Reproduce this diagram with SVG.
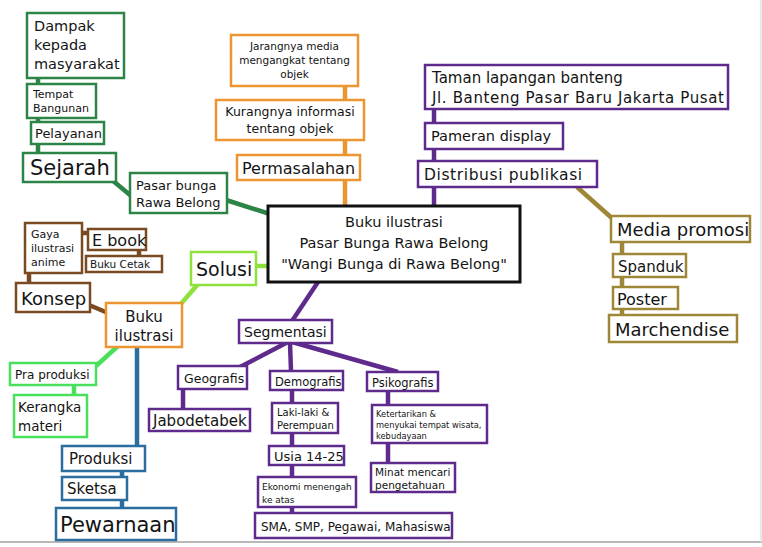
<svg xmlns="http://www.w3.org/2000/svg" width="762" height="547" viewBox="0 0 762 547">
<style>
  text { font-family: "DejaVu Sans", "Liberation Sans", sans-serif; fill: #141414; }
  rect { fill: #ffffff; stroke-width: 2.5; }
  line { stroke-width: 4.5; stroke-linecap: butt; }
  .dg rect { stroke: #2c8446; } line.dg { stroke: #2c8446; }
  .or rect { stroke: #eb9632; } line.or { stroke: #eb9632; }
  .pu rect { stroke: #5e2b8c; } line.pu { stroke: #5e2b8c; }
  .ol rect { stroke: #9e8838; } line.ol { stroke: #9e8838; }
  .br rect { stroke: #7a4b22; } line.br { stroke: #7a4b22; }
  .lg rect { stroke: #8fe23e; } line.lg { stroke: #8fe23e; }
  .bg rect { stroke: #4ae05c; } line.bg { stroke: #4ae05c; }
  .bl rect { stroke: #2a6d9e; } line.bl { stroke: #2a6d9e; }
  .ce rect { stroke: #111111; stroke-width: 3; }
  .c { text-anchor: middle; }
</style>
<rect x="0" y="0" width="762" height="547" style="fill:#ffffff;stroke:none"/>
<line x1="0" y1="542" x2="762" y2="542" style="stroke:#b8b8b8;stroke-width:2"/>
<line x1="761" y1="0" x2="761" y2="542" style="stroke:#e2e2e2;stroke-width:1.5"/>

<g id="connectors">
  <line class="dg" x1="38" y1="78" x2="38" y2="153"/>
  <line class="dg" x1="112" y1="180" x2="136" y2="200"/>
  <line class="dg" x1="226" y1="200" x2="270" y2="214"/>
  <line class="or" x1="345" y1="86" x2="345" y2="206"/>
  <line class="pu" x1="434" y1="109" x2="434" y2="206"/>
  <line class="ol" x1="577" y1="187" x2="614" y2="220"/>
  <line class="ol" x1="622" y1="242" x2="622" y2="315"/>
  <line class="br" x1="82" y1="233" x2="88" y2="233"/>
  <line class="br" x1="139" y1="250" x2="139" y2="256"/>
  <line class="br" x1="29" y1="273" x2="29" y2="283"/>
  <line class="br" x1="89" y1="305" x2="108" y2="313"/>
  <line class="lg" x1="256" y1="266" x2="268" y2="266"/>
  <line class="lg" x1="198" y1="284" x2="180" y2="305"/>
  <line class="bg" x1="118" y1="346" x2="96" y2="366"/>
  <line class="bg" x1="74" y1="385" x2="74" y2="395"/>
  <line class="bl" x1="137" y1="347" x2="137" y2="446"/>
  <line class="bl" x1="122" y1="471" x2="122" y2="508"/>
  <line class="pu" x1="318" y1="282" x2="292" y2="321"/>
  <line class="pu" x1="288" y1="342" x2="240" y2="367"/>
  <line class="pu" x1="290" y1="343" x2="291" y2="371"/>
  <line class="pu" x1="292" y1="342" x2="398" y2="372"/>
  <line class="pu" x1="183" y1="389" x2="183" y2="409"/>
  <line class="pu" x1="292" y1="390" x2="292" y2="513"/>
  <line class="pu" x1="388" y1="391" x2="388" y2="463"/>
</g>

<g id="dampak" class="dg"><rect x="27" y="13" width="97" height="65"/>
  <text x="34" y="31" font-size="14.5">Dampak</text><text x="34" y="50" font-size="14.5">kepada</text><text x="34" y="69" font-size="14.5">masyarakat</text></g>
<g id="tempat" class="dg"><rect x="27" y="84" width="69" height="34"/>
  <text x="33" y="98" font-size="11">Tempat</text><text x="33" y="112" font-size="11">Bangunan</text></g>
<g id="pelayanan" class="dg"><rect x="31" y="122" width="73" height="22"/>
  <text x="35" y="138" font-size="13">Pelayanan</text></g>
<g id="sejarah" class="dg"><rect x="23" y="153" width="93" height="29"/>
  <text x="30" y="175" font-size="21">Sejarah</text></g>
<g id="pasar" class="dg"><rect x="130" y="173" width="97" height="40"/>
  <text x="136" y="190" font-size="13">Pasar bunga</text><text x="136" y="207" font-size="13">Rawa Belong</text></g>

<g id="central" class="ce"><rect x="268" y="206" width="252" height="76"/>
  <text class="c" x="394" y="227" font-size="14.5">Buku ilustrasi</text>
  <text class="c" x="394" y="248" font-size="14.5">Pasar Bunga Rawa Belong</text>
  <text class="c" x="394" y="269" font-size="14.5">"Wangi Bunga di Rawa Belong"</text></g>

<g id="jarangnya" class="or"><rect x="231" y="35" width="127" height="51"/>
  <text class="c" x="294.5" y="50" font-size="10.5">Jarangnya media</text>
  <text class="c" x="294.5" y="64" font-size="10.5">mengangkat tentang</text>
  <text class="c" x="294.5" y="78" font-size="10.5">objek</text></g>
<g id="kurangnya" class="or"><rect x="216" y="100" width="148" height="40"/>
  <text class="c" x="290" y="116" font-size="12.5">Kurangnya informasi</text>
  <text class="c" x="290" y="133" font-size="12.5">tentang objek</text></g>
<g id="permasalahan" class="or"><rect x="237" y="155" width="123" height="25"/>
  <text class="c" x="298.5" y="174" font-size="16">Permasalahan</text></g>

<g id="taman" class="pu"><rect x="425" y="65" width="303" height="44"/>
  <text x="432" y="83" font-size="15">Taman lapangan banteng</text>
  <text x="432" y="103" font-size="15" textLength="292" lengthAdjust="spacing">Jl. Banteng Pasar Baru Jakarta Pusat</text></g>
<g id="pameran" class="pu"><rect x="425" y="123" width="138" height="26"/>
  <text x="431" y="141" font-size="14.5">Pameran display</text></g>
<g id="distribusi" class="pu"><rect x="418" y="161" width="179" height="26"/>
  <text x="424" y="180" font-size="15.5" letter-spacing="0.6">Distribusi publikasi</text></g>

<g id="media" class="ol"><rect x="611" y="216" width="139" height="26"/>
  <text x="617" y="236" font-size="18">Media promosi</text></g>
<g id="spanduk" class="ol"><rect x="613" y="254" width="73" height="23"/>
  <text x="618" y="272" font-size="15">Spanduk</text></g>
<g id="poster" class="ol"><rect x="613" y="287" width="65" height="22"/>
  <text x="617" y="305" font-size="16">Poster</text></g>
<g id="marchendise" class="ol"><rect x="609" y="315" width="128" height="27"/>
  <text x="615" y="336" font-size="18">Marchendise</text></g>

<g id="gaya" class="br"><rect x="25" y="223" width="57" height="50"/>
  <text x="31" y="238" font-size="11">Gaya</text><text x="31" y="252" font-size="11">ilustrasi</text><text x="31" y="266" font-size="11">anime</text></g>
<g id="ebook" class="br"><rect x="88" y="229" width="58" height="21"/>
  <text x="92" y="246" font-size="16">E book</text></g>
<g id="bukucetak" class="br"><rect x="86" y="256" width="76" height="16"/>
  <text x="90" y="268" font-size="10.5">Buku Cetak</text></g>
<g id="konsep" class="br"><rect x="16" y="283" width="74" height="29"/>
  <text x="21" y="305" font-size="18">Konsep</text></g>

<g id="bukuilustrasi" class="or"><rect x="106" y="303" width="76" height="44"/>
  <text class="c" x="144" y="322" font-size="15">Buku</text><text class="c" x="144" y="341" font-size="15">ilustrasi</text></g>

<g id="solusi" class="lg"><rect x="191" y="252" width="65" height="33"/>
  <text x="196" y="276" font-size="19">Solusi</text></g>

<g id="praproduksi" class="bg"><rect x="10" y="363" width="86" height="22"/>
  <text x="15" y="379" font-size="12">Pra produksi</text></g>
<g id="kerangka" class="bg"><rect x="14" y="395" width="73" height="42"/>
  <text x="18" y="412" font-size="13.5">Kerangka</text><text x="18" y="431" font-size="13.5">materi</text></g>

<g id="produksi" class="bl"><rect x="62" y="446" width="83" height="25"/>
  <text x="69" y="464" font-size="15">Produksi</text></g>
<g id="sketsa" class="bl"><rect x="62" y="477" width="65" height="23"/>
  <text x="67" y="494" font-size="15">Sketsa</text></g>
<g id="pewarnaan" class="bl"><rect x="56" y="508" width="120" height="32"/>
  <text x="60" y="532" font-size="21">Pewarnaan</text></g>

<g id="segmentasi" class="pu"><rect x="239" y="320" width="93" height="23"/>
  <text x="244" y="337" font-size="14">Segmentasi</text></g>
<g id="geografis" class="pu"><rect x="178" y="366" width="69" height="23"/>
  <text x="184" y="383" font-size="12.5">Geografis</text></g>
<g id="jabodetabek" class="pu"><rect x="149" y="409" width="101" height="22"/>
  <text x="153" y="426" font-size="15">Jabodetabek</text></g>
<g id="demografis" class="pu"><rect x="270" y="371" width="73" height="19"/>
  <text x="275" y="386" font-size="11.5">Demografis</text></g>
<g id="lakilaki" class="pu"><rect x="272" y="403" width="66" height="30"/>
  <text x="277" y="416" font-size="10">Laki-laki &amp;</text><text x="277" y="429" font-size="10">Perempuan</text></g>
<g id="usia" class="pu"><rect x="269" y="446" width="75" height="19"/>
  <text x="274" y="461" font-size="13">Usia 14-25</text></g>
<g id="ekonomi" class="pu"><rect x="258" y="477" width="98" height="30"/>
  <text x="262" y="490" font-size="9">Ekonomi menengah</text><text x="262" y="503" font-size="9">ke atas</text></g>
<g id="sma" class="pu"><rect x="255" y="513" width="197" height="25"/>
  <text x="261" y="531" font-size="12">SMA, SMP, Pegawai, Mahasiswa</text></g>
<g id="psikografis" class="pu"><rect x="367" y="372" width="71" height="19"/>
  <text x="372" y="387" font-size="11.5">Psikografis</text></g>
<g id="ketertarikan" class="pu"><rect x="372" y="405" width="115" height="38"/>
  <text x="376" y="417" font-size="8.3">Ketertarikan &amp;</text><text x="376" y="428" font-size="8.3">menyukai tempat wisata,</text><text x="376" y="439" font-size="8.3">kebudayaan</text></g>
<g id="minat" class="pu"><rect x="371" y="463" width="84" height="29"/>
  <text x="375" y="476" font-size="10.5">Minat mencari</text><text x="375" y="489" font-size="10.5">pengetahuan</text></g>
</svg>
